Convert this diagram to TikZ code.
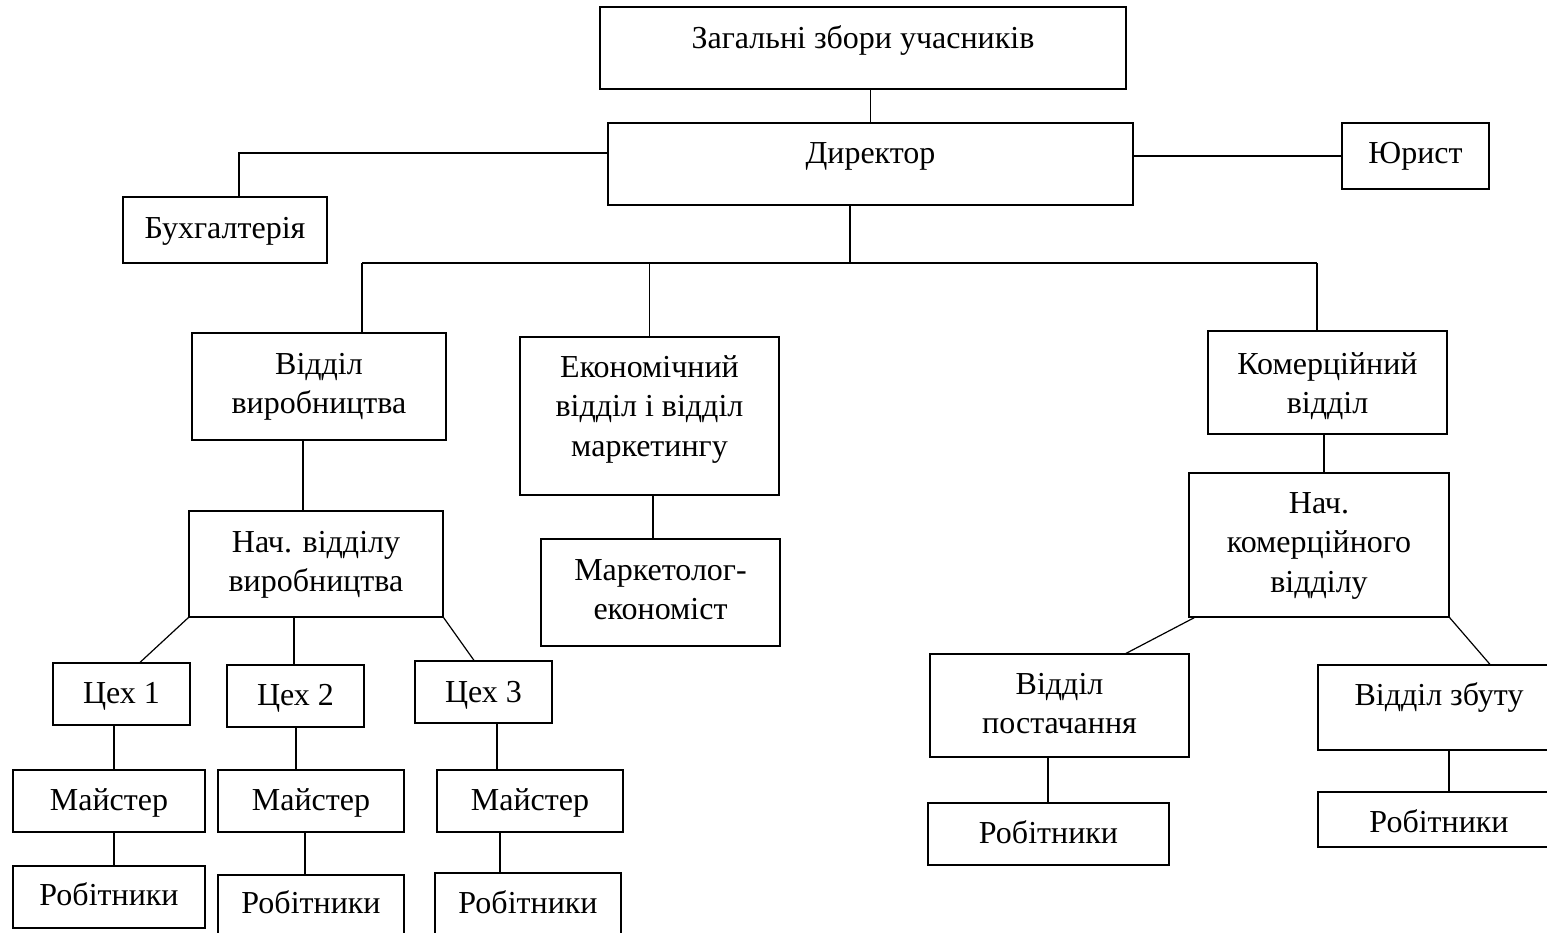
\documentclass[tikz,border=0pt]{standalone}
\usepackage{fontspec}
\setmainfont{Liberation Serif}
\tikzset{
  box/.style={draw, line width=1.2pt, rectangle, inner sep=0pt},
  txt/.style={font=\fontsize{32}{39.5}\selectfont, inner sep=0pt, align=center, anchor=north},
  conn/.style={line width=1.2pt}
}
\newcommand\fs{\rule{0pt}{26pt}}
\begin{document}
\begin{tikzpicture}[x=1pt,y=-1pt]
\useasboundingbox (0,0) rectangle (1547,933);
\clip (0,0) rectangle (1547,933);
% boxes
\node[box, minimum width=526pt, minimum height=82pt] (zag) at (863,48) {};
\node[box, minimum width=525pt, minimum height=82pt] (dir) at (870.5,164) {};
\node[box, minimum width=147pt, minimum height=66pt] (jur) at (1415.5,156) {};
\node[box, minimum width=204pt, minimum height=66pt] (buh) at (225,230) {};
\node[box, minimum width=254pt, minimum height=107pt] (vv) at (319,386.5) {};
\node[box, minimum width=259pt, minimum height=158pt] (ek) at (649.5,416) {};
\node[box, minimum width=239pt, minimum height=103pt] (kom) at (1327.5,382.5) {};
\node[box, minimum width=254pt, minimum height=106pt] (nv) at (316,564) {};
\node[box, minimum width=239pt, minimum height=107pt] (mk) at (660.5,592.5) {};
\node[box, minimum width=260pt, minimum height=144pt] (nk) at (1319,545) {};
\node[box, minimum width=137pt, minimum height=62pt] (c1) at (121.5,694) {};
\node[box, minimum width=137pt, minimum height=62pt] (c2) at (295.5,696) {};
\node[box, minimum width=137pt, minimum height=62pt] (c3) at (483.5,692) {};
\node[box, minimum width=192pt, minimum height=62pt] (m1) at (109,801) {};
\node[box, minimum width=186pt, minimum height=62pt] (m2) at (311,801) {};
\node[box, minimum width=186pt, minimum height=62pt] (m3) at (530,801) {};
\node[box, minimum width=192pt, minimum height=62pt] (r1) at (109,897) {};
\node[box, minimum width=186pt, minimum height=70pt] (r2) at (311,910) {};
\node[box, minimum width=186pt, minimum height=72pt] (r3) at (528,909) {};
\node[box, minimum width=259pt, minimum height=103pt] (vp) at (1059.5,705.5) {};
\node[box, minimum width=242pt, minimum height=85pt] (vz) at (1439,707.5) {};
\node[box, minimum width=241pt, minimum height=62pt] (rp) at (1048.5,834) {};
\node[box, minimum width=242pt, minimum height=55pt] (rz) at (1439,819.5) {};
% texts
\node[txt] (zagt) at (863,22) {\fs Загальні збори учасників};
\node[txt] (dirt) at (870.5,137) {\fs Директор};
\node[txt] (jurt) at (1415.5,137) {\fs Юрист};
\node[txt] (buht) at (225,212) {\fs Бухгалтерія};
\node[txt] (vvt) at (319,348) {\fs Відділ\\виробництва};
\node[txt] (ekt) at (649.5,351) {\fs Економічний\\відділ і відділ\\маркетингу};
\node[txt] (komt) at (1327.5,348) {\fs Комерційний\\відділ};
\node[txt] (nvt) at (316,526) {\fs Нач. відділу\\виробництва};
\node[txt] (mkt) at (660.5,554) {\fs Маркетолог-\\економіст};
\node[txt] (nkt) at (1319,487) {\fs Нач.\\комерційного\\відділу};
\node[txt] (c1t) at (121.5,677) {\fs Цех 1};
\node[txt] (c2t) at (295.5,679) {\fs Цех 2};
\node[txt] (c3t) at (483.5,676) {\fs Цех 3};
\node[txt] (m1t) at (109,784) {\fs Майстер};
\node[txt] (m2t) at (311,784) {\fs Майстер};
\node[txt] (m3t) at (530,784) {\fs Майстер};
\node[txt] (r1t) at (109,879) {\fs Робітники};
\node[txt] (r2t) at (311,887) {\fs Робітники};
\node[txt] (r3t) at (528,887) {\fs Робітники};
\node[txt] (vpt) at (1059.5,668) {\fs Відділ\\постачання};
\node[txt] (vzt) at (1439,679) {\fs Відділ збуту};
\node[txt] (rpt) at (1048.5,817) {\fs Робітники};
\node[txt] (rzt) at (1439,806) {\fs Робітники};
% bus coordinates
\coordinate (busL) at (362,263);
\coordinate (busR) at (1317,263);
\coordinate (dtap) at (850,263);
% connectors
\draw[conn] (dir.north) -- (dir.north |- zag.south);
\draw[conn] ([yshift=11pt]dir.west) -| ([xshift=14pt]buh.north);
\draw[conn] (jur.west) -- (jur.west -| dir.east);
\draw[conn] (dtap |- dir.south) -- (dtap);
\draw[conn] (busL) -- (busR);
\draw[conn] (busL) -- (busL |- vv.north);
\draw[conn] (ek.north) -- (ek.north |- busL);
\draw[conn] (busR) -- (busR |- kom.north);
\draw[conn] ([xshift=-16pt]vv.south) -- ([xshift=-16pt]vv.south |- nv.north);
\draw[conn] ([xshift=3.5pt]ek.south) -- ([xshift=3.5pt]ek.south |- mk.north);
\draw[conn] ([xshift=-3.5pt]kom.south) -- ([xshift=-3.5pt]kom.south |- nk.north);
\draw[conn] (nv.south west) -- ([xshift=18.5pt]c1.north);
\draw[conn] ([xshift=-22pt]nv.south) -- ([xshift=-1.5pt]c2.north);
\draw[conn] (nv.south east) -- ([xshift=-9.5pt]c3.north);
\draw[conn] ([xshift=-7.5pt]c1.south) -- ([xshift=5pt]m1.north);
\draw[conn] ([xshift=0.5pt]c2.south) -- ([xshift=-15pt]m2.north);
\draw[conn] ([xshift=13.5pt]c3.south) -- ([xshift=-33pt]m3.north);
\draw[conn] ([xshift=5pt]m1.south) -- ([xshift=5pt]r1.north);
\draw[conn] ([xshift=-6pt]m2.south) -- ([xshift=-6pt]r2.north);
\draw[conn] ([xshift=-30pt]m3.south) -- ([xshift=-28pt]r3.north);
\draw[conn] ([xshift=6pt]nk.south west) -- ([xshift=66.5pt]vp.north);
\draw[conn] (nk.south east) -- ([xshift=51pt]vz.north);
\draw[conn] ([xshift=-11.5pt]vp.south) -- ([xshift=-0.5pt]rp.north);
\draw[conn] ([xshift=10pt]vz.south) -- ([xshift=10pt]rz.north);
\end{tikzpicture}
\end{document}
